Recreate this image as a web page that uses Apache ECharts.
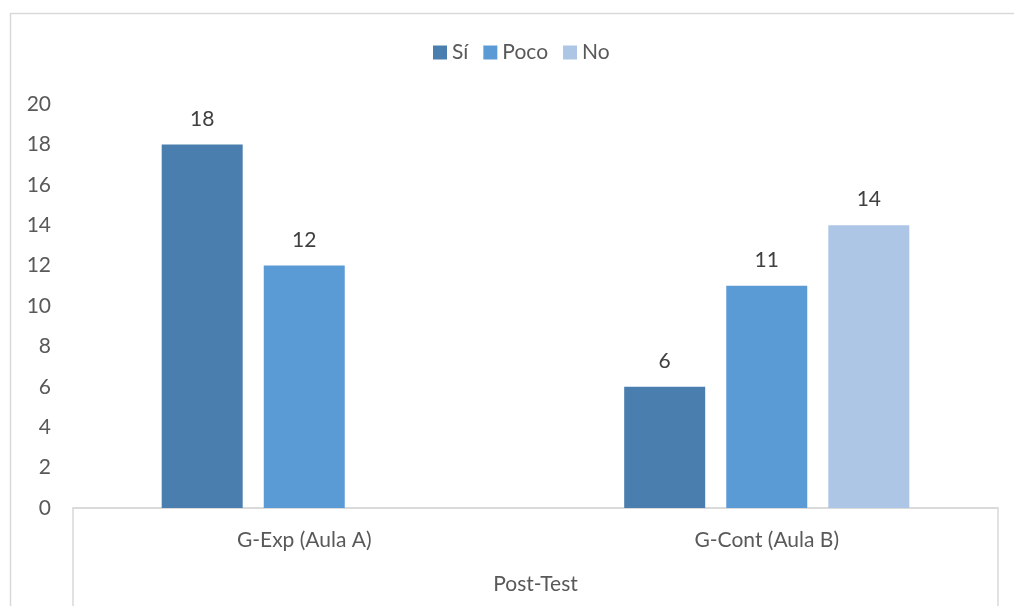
<!DOCTYPE html>
<html>
<head>
<meta charset="utf-8">
<script src="https://cdn.jsdelivr.net/npm/echarts@6/dist/echarts.min.js"></script>
<style>html,body{margin:0;padding:0;background:#fff}#c{width:1014px;height:606px}</style>
</head>
<body>
<div id="c"></div>
<script>
const categories = ['G-Exp (Aula A)', 'G-Cont (Aula B)'];
const groupLabel = ['Post-Test'];
const seriesNames = ['Sí', 'Poco', 'No'];
const siValues = [18, 6];
const pocoValues = [12, 11];
const noValues = [null, 14];
const yTicks = { min: 0, max: 20, interval: 2 };

const FONT = 'Lato';
const FS = 21;
const colors = ['#4a7eae', '#5b9bd5', '#adc6e6'];
const chart = echarts.init(document.getElementById('c'), null, { renderer: 'canvas' });
const lbl = { show: true, position: 'top', distance: 15, color: '#404040', fontSize: FS, fontFamily: FONT };
const mk = (name, data, i) => ({
  name, type: 'bar', data, xAxisIndex: 0, barWidth: 81, barGap: '26%',
  itemStyle: { color: colors[i] }, label: lbl
});
chart.setOption({
  animation: false,
  textStyle: { fontFamily: FONT },
  legend: {
    data: seriesNames, top: 37, left: 428, itemWidth: 14, itemHeight: 14, itemGap: 15,
    textStyle: { color: '#595959', fontSize: FS, fontFamily: FONT }, icon: 'rect'
  },
  grid: { left: 73, right: 16, top: 104, bottom: 98, containLabel: false },
  graphic: [{ type: 'rect', shape: { x: 10.5, y: 13.5, width: 1200, height: 800 }, style: { fill: 'none', stroke: '#d9d9d9', lineWidth: 1.5 }, silent: true }],
  xAxis: [
    { type: 'category', data: categories, position: 'bottom',
      axisLine: { show: true, lineStyle: { color: '#d9d9d9', width: 1.5 } },
      axisTick: { show: false },
      axisLabel: { color: '#595959', fontSize: FS, fontFamily: FONT, margin: 22 } },
    { type: 'category', data: groupLabel, position: 'bottom',
      axisLine: { show: true, lineStyle: { color: '#d9d9d9', width: 1.5 } },
      axisTick: { show: true, length: 100, lineStyle: { color: '#d9d9d9', width: 1.5 } },
      axisLabel: { color: '#595959', fontSize: FS, fontFamily: FONT, margin: 66 } }
  ],
  yAxis: {
    type: 'value', min: yTicks.min, max: yTicks.max, interval: yTicks.interval,
    axisLine: { show: false }, axisTick: { show: false }, splitLine: { show: false },
    axisLabel: { color: '#595959', fontSize: FS, fontFamily: FONT, margin: 22 }
  },
  series: [mk(seriesNames[0], siValues, 0), mk(seriesNames[1], pocoValues, 1), mk(seriesNames[2], noValues, 2)]
});
</script>
</body>
</html>
